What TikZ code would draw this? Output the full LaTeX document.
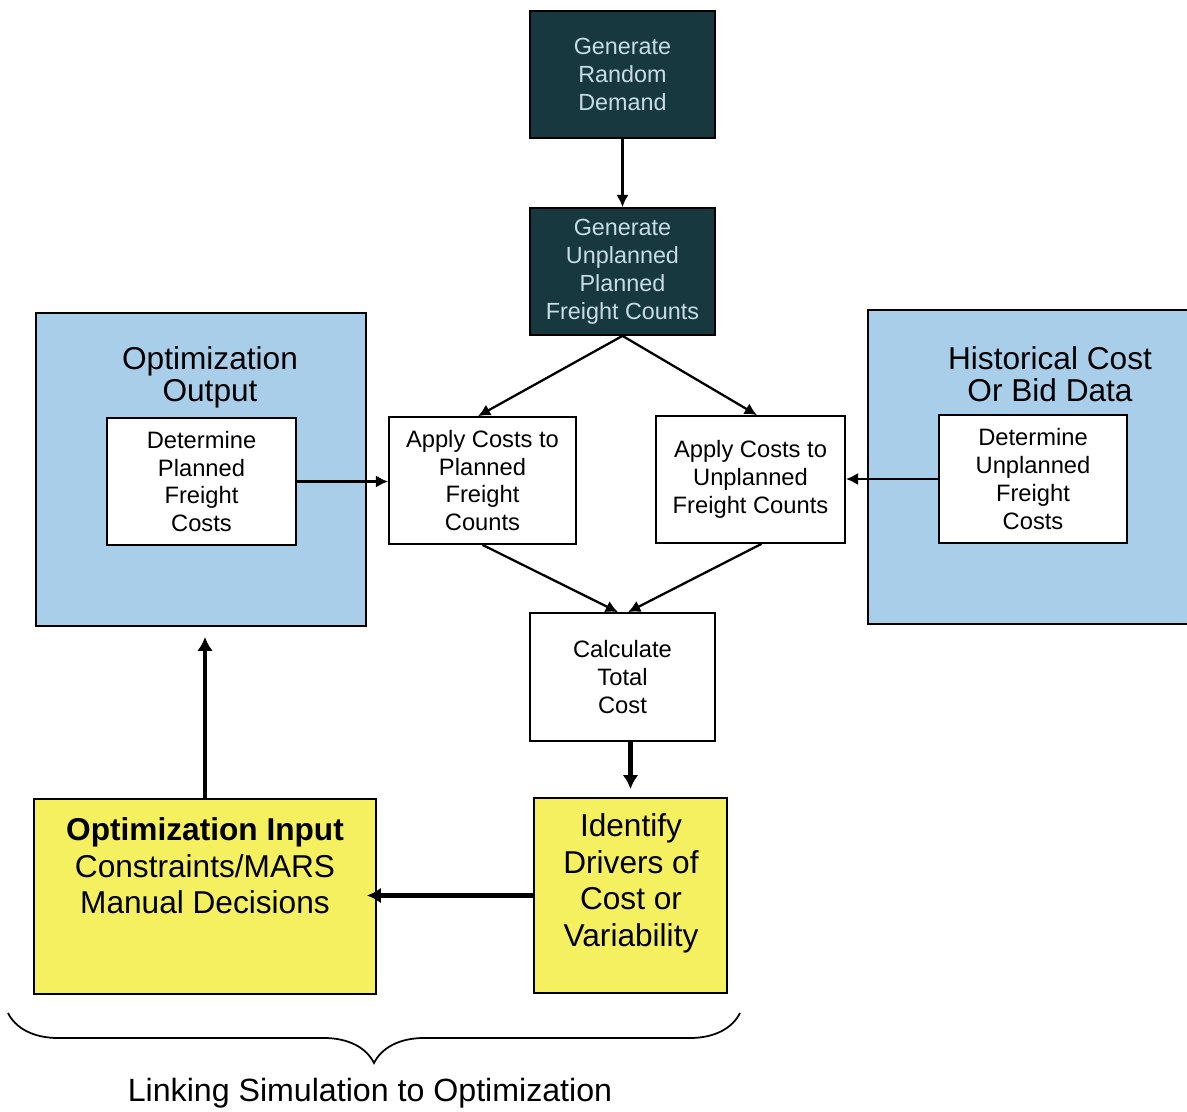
\documentclass[tikz,border=0pt]{standalone}
\usepackage{fontspec}
\setmainfont{Liberation Sans}
\usetikzlibrary{arrows.meta,positioning,decorations.pathreplacing}

\definecolor{darkteal}{RGB}{24,56,64}
\definecolor{paletext}{RGB}{200,220,230}
\definecolor{skyfill}{RGB}{168,206,234}
\definecolor{lemon}{RGB}{245,240,96}

\begin{document}
\begin{tikzpicture}[
  x=0.02cm, y=-0.02cm,
  darkbox/.style={rectangle, draw=black, line width=1pt, fill=darkteal, text=paletext,
    minimum width=3.7cm, minimum height=2.54cm, align=center,
    font=\fontsize{13.3}{15.9}\selectfont},
  whitebox/.style={rectangle, draw=black, line width=1pt, fill=white, align=center,
    minimum height=2.54cm, font=\fontsize{13.5}{15.9}\selectfont},
  bluebox/.style={rectangle, draw=black, line width=1.1pt, fill=skyfill},
  yellowbox/.style={rectangle, draw=black, line width=1.1pt, fill=lemon},
  heading/.style={align=center, font=\fontsize{18}{18.3}\selectfont},
  bigtext/.style={align=center, font=\fontsize{18}{20.8}\selectfont},
  thinarrow/.style={-{Latex[length=7pt,width=7pt]}, line width=1.3pt},
  thickarrow/.style={-{Latex[length=8pt,width=9pt]}, line width=2.8pt}
]
  \useasboundingbox (0,0) rectangle (1187,1112);

  %% Background areas
  \node[bluebox, minimum width=6.6cm, minimum height=6.26cm] (optout) at (201,469.5) {};
  \node[heading] (optouttitle) at (210,377) {Optimization\\Output};
  \node[bluebox, minimum width=6.5cm, minimum height=6.28cm] (histdata) at (1030.5,467) {};
  \node[heading] (histtitle) at (1050,374) {Historical Cost\\Or Bid Data};

  \node[yellowbox, minimum width=6.84cm, minimum height=3.9cm] (optin) at (205,896.5) {};
  \node[bigtext] (optintext) at (205,866)
    {{\bfseries Optimization Input}\\Constraints/MARS\\Manual Decisions};
  \node[yellowbox, minimum width=3.86cm, minimum height=3.9cm] (ident) at (630.5,895.5) {};
  \node[bigtext] (identtext) at (631,883.5) {Identify\\Drivers of\\Cost or\\Variability};

  %% Simulation steps
  \node[darkbox] (demand) at (622.5,74.5) {Generate\\Random\\Demand};
  \node[darkbox] (counts) at (622.5,271.5) {Generate\\Unplanned\\Planned\\Freight Counts};

  \node[whitebox, minimum width=3.78cm] (detplan) at (201.5,481.5)
    {Determine\\Planned\\Freight\\Costs};
  \node[whitebox, minimum width=3.74cm] (appplan) at (482.5,480.5)
    {Apply Costs to\\Planned\\Freight\\Counts};
  \node[whitebox, minimum width=3.78cm] (appunplan) at (750.5,479.5)
    {Apply Costs to\\Unplanned\\Freight Counts};
  \node[whitebox, minimum width=3.76cm, minimum height=2.56cm] (detunplan) at (1033,479)
    {Determine\\Unplanned\\Freight\\Costs};
  \node[whitebox, minimum width=3.7cm, minimum height=2.56cm] (calc) at (622.5,677)
    {Calculate\\Total\\Cost};

  %% Brace
  \coordinate (braceL) at (8,1013);
  \coordinate (braceR) at (740,1013);
  \draw[line width=1pt, decorate, decoration={brace, mirror, amplitude=1cm}]
    (braceL) -- (braceR);
  \node[font=\fontsize{18.3}{20}\selectfont] (linking) at (370,1093)
    {Linking Simulation to Optimization};

  %% Arrows
  \draw[thinarrow] (demand) -- (counts);
  \draw[thinarrow] (counts.south) -- ([xshift=-0.09cm]appplan.north);
  \draw[thinarrow] (counts.south) -- ([xshift=0.13cm]appunplan.north);
  \draw[thinarrow] (appplan.south) -- ([xshift=-0.09cm]calc.north);
  \draw[thinarrow] ([xshift=0.22cm]appunplan.south) -- ([xshift=0.11cm]calc.north);
  \draw[thinarrow] (detplan.east) -- (detplan.east -| appplan.west);
  \draw[thinarrow] (detunplan.west) -- (detunplan.west -| appunplan.east);
  \draw[thickarrow, shorten >=0.16cm] (calc.south -| ident.north) -- (ident.north);
  \draw[thickarrow] (ident.west) -- ([xshift=-0.2cm]ident.west -| optin.east);
  \draw[thickarrow, shorten >=0.2cm] (optin.north) -- (optin.north |- optout.south);
\end{tikzpicture}
\end{document}
